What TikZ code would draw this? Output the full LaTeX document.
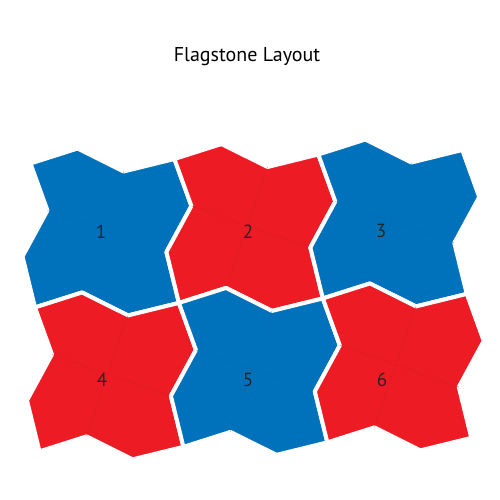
\documentclass[tikz,border=0pt]{standalone}
\usepackage{fontspec}
\setmainfont{PT Sans}
\definecolor{tileblue}{RGB}{0,114,188}
\definecolor{tilered}{RGB}{237,28,36}
\tikzset{
  stone/.style={fill=#1, draw=white, line width=4pt, line join=round},
  seam/.style={draw=#1!90!black, line width=0.5pt, opacity=0.5},
  numlabel/.style={font=\fontsize{19}{21}\selectfont, text=black!85, inner sep=0pt},
}
\newcommand\stonepath{(0,0) -- (47.5,-13.5) -- (92.8,10.9) -- (144,0) -- (159.5,47.5) -- (133.1,92.7) -- (144,144) -- (92.8,154.9) -- (47.5,130.5) -- (0,144) -- (-10.9,92.7) -- (15.5,47.5) -- cycle}
\begin{document}
\begin{tikzpicture}[x=1pt,y=-1pt]
\useasboundingbox (0,0) rectangle (500,500);
\fill[white] (0,0) rectangle (500,500);
\node[font=\fontsize{20}{24}\selectfont, anchor=base, inner sep=0pt] (title) at (247,62) {Flagstone Layout};
\begin{scope}[shift={(30.5,163.5)}, rotate=1.79]
\foreach \i/\j/\c in {0/0/tileblue, 1/0/tilered, 2/0/tileblue, 0/1/tilered, 1/1/tileblue, 2/1/tilered}{
  \begin{scope}[shift={(144*\i,144*\j)}]
    \path[stone=\c] \stonepath;
    \draw[seam=\c] (92.8,10.9) -- (47.5,130.5);
    \draw[seam=\c] (15.5,47.5) -- (133.1,92.7);
  \end{scope}
}
\end{scope}
\foreach \n/\x/\y in {1/101/232, 2/248/232, 3/381/231, 4/102/380, 5/248/380, 6/382/380}{
  \node[numlabel] (n\n) at (\x,\y) {\n};
}
\end{tikzpicture}
\end{document}
